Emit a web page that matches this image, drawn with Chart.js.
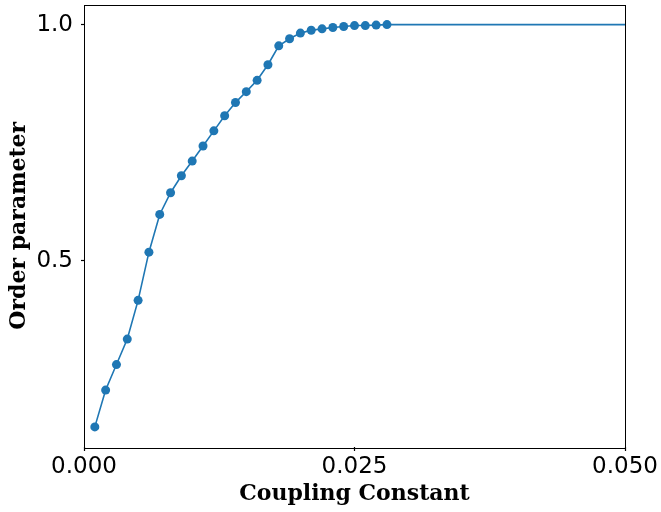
<!DOCTYPE html>
<html>
<head>
<meta charset="utf-8">
<script src="https://cdn.jsdelivr.net/npm/chart.js@4/dist/chart.umd.min.js"></script>
<style>
  html, body { margin: 0; padding: 0; background: #fff; }
  #wrap { width: 661px; height: 512px; }
</style>
</head>
<body>
<div id="wrap"><canvas id="orderChart" width="661" height="512"></canvas></div>
<script>
// coupling sweep with markers
const couplingConstant = [
  0.001, 0.002, 0.003, 0.004, 0.005, 0.006, 0.007, 0.008, 0.009, 0.010,
  0.011, 0.012, 0.013, 0.014, 0.015, 0.016, 0.017, 0.018, 0.019, 0.020,
  0.021, 0.022, 0.023, 0.024, 0.025, 0.026, 0.027, 0.028
];
const orderParameter = [
  0.148, 0.226, 0.280, 0.334, 0.416, 0.518, 0.598, 0.644, 0.680, 0.711,
  0.743, 0.775, 0.807, 0.835, 0.858, 0.882, 0.915, 0.955, 0.970, 0.982,
  0.988, 0.991, 0.994, 0.996, 0.998, 0.998, 0.999, 1.000
];
// saturated tail, drawn as plain line
const tailCoupling = [0.028, 0.050];
const tailOrder = [1.000, 1.000];

const xTicks = [0.000, 0.025, 0.050];
const yTicks = [0.5, 1.0];

const blue = '#1f77b4';

const toPoints = (xs, ys) => xs.map((x, i) => ({ x: x, y: ys[i] }));

// black frame round the plot area
const frame = {
  id: 'frame',
  afterDatasetsDraw(chart) {
    const a = chart.chartArea;
    const ctx = chart.ctx;
    ctx.save();
    ctx.strokeStyle = '#000';
    ctx.lineWidth = 1;
    ctx.strokeRect(Math.round(a.left) + 0.5, Math.round(a.top) + 0.5,
      Math.round(a.right - a.left), Math.round(a.bottom - a.top));
    ctx.restore();
  }
};

new Chart(document.getElementById('orderChart'), {
  type: 'scatter',
  data: {
    datasets: [
      {
        data: toPoints(couplingConstant, orderParameter),
        showLine: true,
        borderColor: blue,
        backgroundColor: blue,
        borderWidth: 1.6,
        pointRadius: 4.5,
        pointBorderWidth: 0,
        order: 1
      },
      {
        data: toPoints(tailCoupling, tailOrder),
        showLine: true,
        borderColor: blue,
        borderWidth: 1.6,
        pointRadius: 0,
        order: 2
      }
    ]
  },
  options: {
    responsive: false,
    animation: false,
    layout: { padding: { top: 4, right: 36, left: 0, bottom: 0 } },
    plugins: {
      legend: { display: false },
      tooltip: { enabled: false }
    },
    scales: {
      x: {
        type: 'linear',
        min: 0,
        max: 0.05,
        afterBuildTicks: s => { s.ticks = xTicks.map(v => ({ value: v })); },
        afterFit: s => { s.height = 65; s.paddingLeft = 0; s.paddingRight = 0; },
        border: { display: false },
        grid: { drawOnChartArea: false, drawTicks: true, tickLength: 4, tickColor: '#000', tickWidth: 1.2 },
        ticks: {
          color: '#000',
          padding: 2,
          maxRotation: 0,
          font: { family: 'DejaVu Sans', size: 23 },
          callback: v => Number(v).toFixed(3)
        },
        title: {
          display: true,
          text: 'Coupling Constant',
          color: '#000',
          padding: { top: 0, bottom: 5 },
          font: { family: 'DejaVu Serif', size: 22, weight: 'bold' }
        }
      },
      y: {
        type: 'linear',
        min: 0.1054,
        max: 1.0426,
        afterBuildTicks: s => { s.ticks = yTicks.map(v => ({ value: v })); },
        afterFit: s => { s.width = 84; s.paddingTop = 0; s.paddingBottom = 0; },
        border: { display: false },
        grid: { drawOnChartArea: false, drawTicks: true, tickLength: 3, tickColor: '#000', tickWidth: 1.2 },
        ticks: {
          color: '#000',
          padding: 8,
          font: { family: 'DejaVu Sans', size: 23 },
          callback: v => Number(v).toFixed(1)
        },
        title: {
          display: true,
          text: 'Order parameter',
          color: '#000',
          padding: { top: 6, bottom: 0 },
          font: { family: 'DejaVu Serif', size: 22, weight: 'bold' }
        }
      }
    }
  },
  plugins: [frame]
});
</script>
</body>
</html>
